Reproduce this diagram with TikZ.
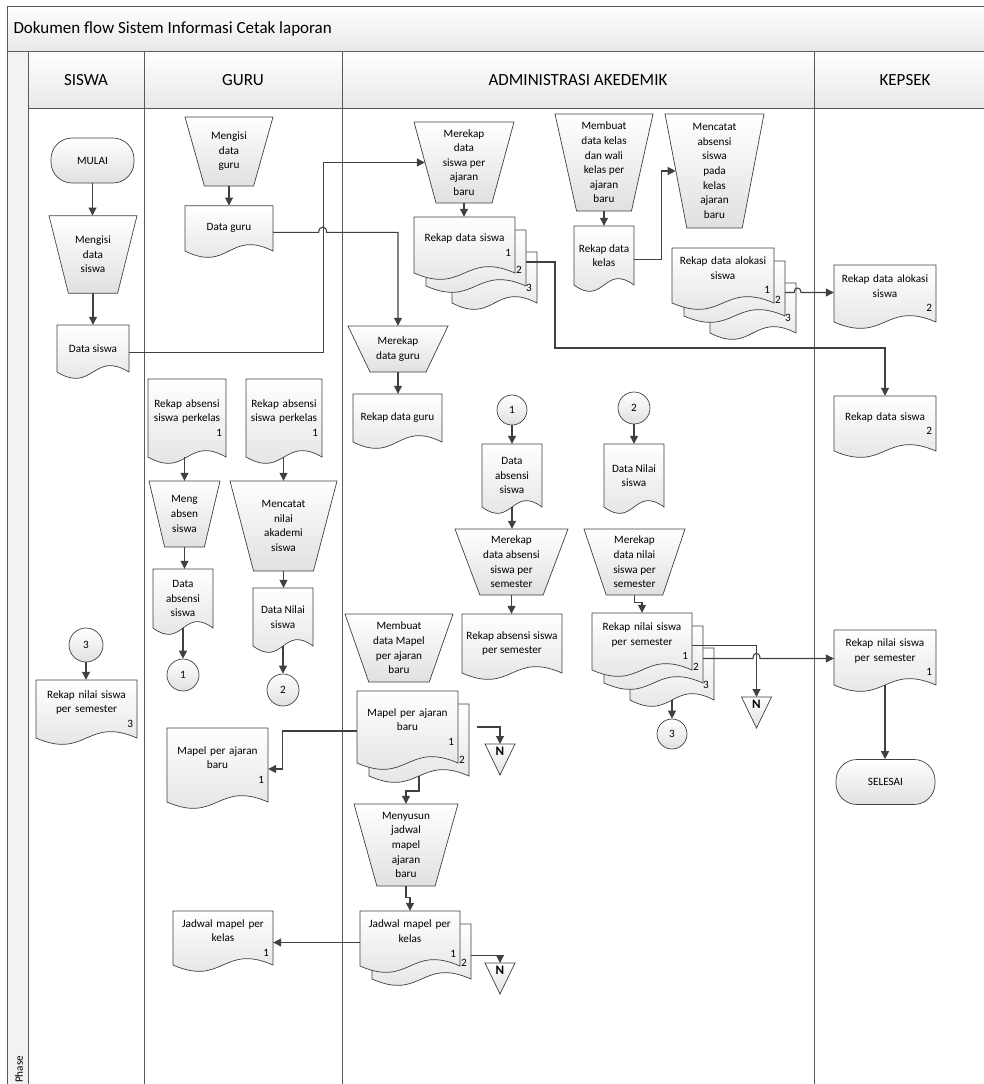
\documentclass[tikz,border=0pt]{standalone}
\usepackage{fontspec}
\setmainfont{Carlito}
\usepackage{tikz}
\usetikzlibrary{arrows.meta,calc,positioning}
\definecolor{garis}{HTML}{404040}
\definecolor{bingkai}{HTML}{5A5A5A}
\tikzset{
  shp/.style={draw=garis, line width=0.7pt, top color=white, bottom color=black!12},
  txt/.style={align=center, inner sep=2pt, font=\fontsize{11.2}{14.6}\selectfont},
  bernomor/.style={text width=\lebarteks pt},
  term/.style={shp, txt, rounded corners=21pt, minimum height=45pt},
  konektor/.style={shp, txt, circle, minimum size=32pt, inner sep=0pt},
  alir/.style={draw=garis, line width=1.1pt, -{Triangle[length=8pt,width=8pt]}},
  hdr/.style={draw=bingkai, line width=0.8pt, top color=white, bottom color=black!9},
  hdrteks/.style={font=\fontsize{17}{20}\selectfont}
}
\newcommand{\nomor}[1]{\\\hspace*{\fill}#1}
% document with wavy bottom: left, top, right, bottom
\newcommand{\docpath}[4]{%
  \path[shp] (#1,#2) -- (#3,#2) -- (#3,#4)
    .. controls ({(#1+#3)/2},{#4-22}) and ({(#1+#3)/2},{#4+22}) .. (#1,#4) -- cycle;}
% document node: [options] name, left, top, right, bottom, text
\newcommand{\docu}[7][]{%
  \docpath{#3}{#4}{#5}{#6}
  \pgfmathsetmacro{\lebar}{#5-#3}%
  \pgfmathsetmacro{\tinggi}{#6-#4}%
  \pgfmathsetmacro{\lebarteks}{#5-#3-8}%
  \node[txt, minimum width=\lebar pt, minimum height=\tinggi pt, #1]
    (#2) at ({(#3+#5)/2},{(#4+#6)/2}) {#7};}
% stacks of two and three documents
\newcommand{\tumpukdua}[7][]{%
  \docpath{#3+12}{#4+13}{#5+11}{#6+13}
  \docu[#1]{#2}{#3}{#4}{#5}{#6}{#7}
  \node[txt, inner sep=0pt] (#2-n2) at ({#5+4},{#6-3}) {2};
  \coordinate (#2-p2) at ({#5+11},{(#4+#6)/2+17});
  \coordinate (#2-p2s) at ({(#3+#5)/2+11.5},{#6+13});}
\newcommand{\tumpuktiga}[7][]{%
  \docpath{#3+38}{#4+35}{#5+22}{#6+30}
  \tumpukdua[#1]{#2}{#3}{#4}{#5}{#6}{#7}
  \node[txt, inner sep=0pt] (#2-n3) at ({#5+14},{#6+15}) {3};
  \coordinate (#2-p3s) at ({(#3+#5)/2+30},{#6+30});}
% manual operation: name, centre x, top, top width, height, text
\newcommand{\manop}[6]{%
  \path[shp] ({#2-#4/2},#3) -- ({#2+#4/2},#3) -- ({#2+0.28*#4},{#3+#5})
    -- ({#2-0.28*#4},{#3+#5}) -- cycle;
  \pgfmathsetmacro{\lebar}{0.78*#4}%
  \pgfmathsetmacro{\tinggi}{#5}%
  \node[txt, minimum width=\lebar pt, minimum height=\tinggi pt] (#1) at (#2,{#3+#5/2}) {#6};}
% offline storage: name, centre x, top
\newcommand{\arsip}[3]{%
  \path[shp] ({#2-15},#3) -- ({#2+15},#3) -- (#2,{#3+31}) -- cycle;
  \node[txt, anchor=north, inner sep=2.5pt, font=\fontsize{13}{15}\selectfont\bfseries] (#1) at (#2,#3) {N};}

\begin{document}
\begin{tikzpicture}[x=1pt, y=-1pt]
  \useasboundingbox (0,0) rectangle (984,1084);
  \clip (0,0) rectangle (984,1084);

  % Frame and lanes
  \draw[hdr] (7,6) rectangle (1000,51);
  \node[hdrteks, anchor=west] (judul) at (10,29) {Dokumen flow Sistem Informasi Cetak laporan};
  \draw[draw=bingkai, line width=0.8pt, fill=black!5] (7,51) rectangle (28,1100);
  \node[txt, rotate=90, anchor=west] (fase) at (19,1085) {Phase};
  \foreach \a/\b/\nama/\teks in {28/144/hsiswa/SISWA, 144/342/hguru/GURU,
      342/814/hadm/ADMINISTRASI AKEDEMIK, 814/996/hkep/KEPSEK}{
    \draw[hdr] (\a,51) rectangle (\b,108);
    \draw[draw=bingkai, line width=0.8pt] (\a,108) rectangle (\b,1100);
    \node[hdrteks] (\nama) at ({(\a+\b)/2},80) {\teks};
  }

  % Siswa
  \node[term, minimum width=83pt] (mulai) at (92.5,160.5) {MULAI};
  \manop{isiswa}{93}{215.7}{88}{77.5}{Mengisi\\data\\siswa}
  \docu{dsiswa}{57}{325}{129}{372}{Data siswa}
  \node[konektor, minimum size=34pt] (k3s) at (86,645) {3};
  \docu[bernomor]{rnilai3}{36}{680}{137}{738}{Rekap nilai siswa\\per semester\nomor{3}}

  % Guru
  \manop{iguru}{229}{117}{88}{69}{Mengisi\\data\\guru}
  \docu{dguru}{185}{205.7}{273}{251}{Data guru}
  \docu[bernomor]{rabsen1}{148}{379}{226}{457}{Rekap absensi\\siswa perkelas\nomor{1}}
  \docu[bernomor]{rabsen2}{246}{379}{322}{457}{Rekap absensi\\siswa perkelas\nomor{1}}
  \manop{absen}{184.5}{481}{71}{66}{Meng\\absen\\siswa}
  \manop{cnilai}{283.5}{481}{107}{90}{Mencatat\\nilai\\akademi\\siswa}
  \docu{dabsen1}{153}{569}{213}{628}{Data\\absensi\\siswa}
  \docu{dnilai1}{253}{588}{313}{646}{Data Nilai\\siswa}
  \node[konektor] (k1g) at (183,675) {1};
  \node[konektor] (k2g) at (283,690) {2};
  \docu[bernomor]{mapel1}{167}{728}{268}{802}{Mapel per ajaran\\baru\nomor{1}}
  \docu[bernomor]{jadwal1}{173}{911}{273}{965}{Jadwal mapel per\\kelas\nomor{1}}

  % Administrasi akademik
  \manop{rsiswa}{464}{122}{100}{81}{Merekap\\data\\siswa per\\ajaran\\baru}
  \tumpuktiga[bernomor]{rdsiswa}{414}{217}{515}{273}{Rekap data siswa\nomor{1}}
  \manop{bkelas}{604}{114}{98}{97}{Membuat\\data kelas\\dan wali\\kelas per\\ajaran\\baru}
  \docu{rkelas}{574}{226}{634}{285}{Rekap data\\kelas}
  \manop{cabsen}{714.5}{114}{99}{114}{Mencatat\\absensi\\siswa\\pada\\kelas\\ajaran\\baru}
  \tumpuktiga[bernomor]{ralokasi}{672}{248}{774}{303}{Rekap data alokasi\\siswa\nomor{1}}
  \manop{rguru}{398}{326}{100}{46}{Merekap\\data guru}
  \docu{rdguru}{353}{394}{442}{442}{Rekap data guru}
  \node[konektor, minimum size=30pt] (k1a) at (512,410) {1};
  \node[konektor] (k2a) at (634,408) {2};
  \docu{dabsen2}{482}{444}{542}{507}{Data\\absensi\\siswa}
  \docu{dnilai2}{604}{444}{664}{507}{Data Nilai\\siswa}
  \manop{rabsen}{511.5}{529}{113}{66}{Merekap\\data absensi\\siswa per\\semester}
  \manop{rnilai}{634.5}{529}{101}{66}{Merekap\\data nilai\\siswa per\\semester}
  \docu{rasem}{462}{614}{562}{673}{Rekap absensi siswa\\per semester}
  \tumpuktiga[bernomor]{rnsem}{592}{613}{692}{670}{Rekap nilai siswa\\per semester\nomor{1}}
  \node[konektor, minimum size=30pt] (k3a) at (672,734) {3};
  \arsip{n1}{756.5}{697}
  \manop{bmapel}{399}{614}{108}{68}{Membuat\\data Mapel\\per ajaran\\baru}
  \tumpukdua[bernomor]{mapel2}{357}{691}{458}{763}{Mapel per ajaran\\baru\nomor{1}}
  \arsip{n2}{500}{744}
  \manop{sjadwal}{406}{804}{104}{82}{Menyusun\\jadwal\\mapel\\ajaran\\baru}
  \tumpukdua[bernomor]{jadwal2}{360}{911}{460}{966}{Jadwal mapel per\\kelas\nomor{1}}
  \arsip{n3}{500}{963}

  % Kepsek
  \docu[bernomor]{ralokasik}{834}{265}{936}{322}{Rekap data alokasi\\siswa\nomor{2}}
  \docu[bernomor]{rdsiswak}{834}{396}{936}{451}{Rekap data siswa\nomor{2}}
  \docu[bernomor]{rnsemk}{834}{630}{936}{685}{Rekap nilai siswa\\per semester\nomor{1}}
  \node[term, minimum width=99pt] (selesai) at (885.5,782) {SELESAI};

  % Flow
  \draw[alir] (mulai.south) -- (mulai.south |- isiswa.north);
  \draw[alir] (isiswa.south) -- (isiswa.south |- dsiswa.north);
  \draw[alir] ([yshift=-4pt]dsiswa.east) -- ++(194,0) |- (rsiswa.west);
  \draw[alir] (iguru.south) -- (iguru.south |- dguru.north);
  \draw[alir] ([yshift=-4pt]dguru.east) -- ++(45.5,0)
    .. controls +(0,-7) and +(0,-7) .. ++(8,0) -| (rguru.north);
  \draw[alir] (absen.north |- rabsen1.south) -- (absen.north);
  \draw[alir] (cnilai.north |- rabsen2.south) -- (cnilai.north);
  \draw[alir] (absen.south) -- (absen.south |- dabsen1.north);
  \draw[alir] (cnilai.south) -- (cnilai.south |- dnilai1.north);
  \draw[alir] (dabsen1.south) -- (dabsen1.south |- k1g.north);
  \draw[alir] (dnilai1.south) -- (dnilai1.south |- k2g.north);
  \draw[alir] (k3s.south) -- (k3s.south |- rnilai3.north);

  \draw[alir] (rsiswa.south) -- (rsiswa.south |- rdsiswa.north);
  \draw[alir] (bkelas.south) -- (bkelas.south |- rkelas.north);
  \draw[alir] ([yshift=-4pt]rkelas.east) -- ++(27,0) |- (cabsen.west);
  \draw[alir] (rguru.south) -- (rguru.south |- rdguru.north);
  \draw[alir] (rdsiswa-p2) -- ++(29,0) -- ++(0,86) -| (rdsiswak.north);
  \draw[alir] (ralokasi-p2) -- ++(9,0) .. controls +(0,-6) and +(0,-6) .. ++(7,0)
    -- (ralokasi-p2 -| ralokasik.west);
  \draw[alir] (k1a.south) -- (k1a.south |- dabsen2.north);
  \draw[alir] (dabsen2.south) -- (dabsen2.south |- rabsen.north);
  \draw[alir] (rabsen.south) -- (rabsen.south |- rasem.north);
  \draw[alir] (k2a.south) -- (k2a.south |- dnilai2.north);
  \draw[alir] (rnilai.south) -- ++(0,7) -| (rnsem.north);
  \draw[alir] ([yshift=-4pt]rnsem.east) -| (n1.north);
  \draw[alir] (rnsem-p2) -- ++(50,0) .. controls +(0,-7) and +(0,-7) .. ++(7,0)
    -- (rnsem-p2 -| rnsemk.west);
  \draw[alir] (rnsem-p3s) -- (rnsem-p3s |- k3a.north);
  \draw[alir] (rnsemk.south) -- (rnsemk.south |- selesai.north);
  \draw[alir] ([xshift=19pt]mapel2.east) -| (n2.north);
  \draw[alir] ([yshift=-4pt]mapel2.west) -- ++(-74,0) |- ([yshift=-4pt]mapel1.east);
  \draw[alir] (mapel2-p2s) -- ++(0,15) -| (sjadwal.north);
  \draw[alir] (sjadwal.south) -- ++(0,11) -| (jadwal2.north);
  \draw[alir] (jadwal2-p2) -| (n3.north);
  \draw[alir] ([yshift=-4pt]jadwal2.west) -- ([yshift=-4pt]jadwal2.west -| jadwal1.east);
\end{tikzpicture}
\end{document}
